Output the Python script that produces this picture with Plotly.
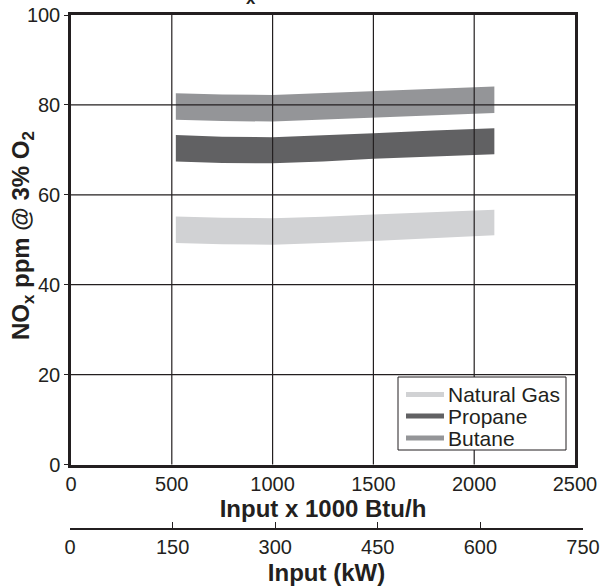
import plotly.graph_objects as go

# Heat input (x 1000 Btu/h) at which each emission band is sampled
input_kbtu = [520, 750, 1000, 1250, 1500, 1800, 2100]

# NOx band limits, ppm @ 3% O2
butane_hi = [82.6, 82.3, 82.2, 82.6, 83.1, 83.6, 84.1]
butane_lo = [76.7, 76.4, 76.3, 76.7, 77.2, 77.7, 78.2]
propane_hi = [73.3, 72.9, 72.8, 73.2, 73.7, 74.3, 74.8]
propane_lo = [67.4, 67.1, 67.0, 67.4, 68.0, 68.5, 69.0]
natgas_hi = [55.2, 54.9, 54.8, 55.1, 55.6, 56.2, 56.7]
natgas_lo = [49.3, 49.0, 48.9, 49.3, 49.7, 50.3, 51.0]

fuels = ["Natural Gas", "Propane", "Butane"]
fuel_colors = ["#d1d2d4", "#616163", "#949598"]

x_ticks = [0, 500, 1000, 1500, 2000, 2500]
kw_ticks = [0, 150, 300, 450, 600, 750]
y_ticks = [0, 20, 40, 60, 80, 100]

INK = "#231f20"
FONT = "Liberation Sans, Arial, sans-serif"

L, R, T, B = 70, 16, 15, 59
W, H = 600 - L - R, 588 - T - B


def px_x(p):
    return (p - L) / W


def px_y(p):
    return (588 - B - p) / H


fig = go.Figure()

bands = [(natgas_lo, natgas_hi), (propane_lo, propane_hi), (butane_lo, butane_hi)]
for name, color, (lo, hi) in zip(fuels, fuel_colors, bands):
    fig.add_trace(go.Scatter(
        x=input_kbtu + input_kbtu[::-1],
        y=hi + lo[::-1],
        fill="toself", fillcolor=color,
        line=dict(width=0), mode="lines", name=name,
        showlegend=False, hoverinfo="skip",
    ))

# kW scale trace (keeps the secondary axis alive)
fig.add_trace(go.Scatter(x=[kw_ticks[0], kw_ticks[-1]], y=[None, None],
                         xaxis="x2", mode="lines", showlegend=False,
                         hoverinfo="skip"))

# grid drawn on top of the bands
for xv in x_ticks[1:-1]:
    fig.add_shape(type="line", xref="x", yref="y domain", x0=xv, x1=xv,
                  y0=0, y1=1, line=dict(color=INK, width=1.2), layer="above")
for yv in y_ticks[1:-1]:
    fig.add_shape(type="line", xref="x domain", yref="y", x0=0, x1=1,
                  y0=yv, y1=yv, line=dict(color=INK, width=1.2), layer="above")

# legend box
fig.add_shape(type="rect", xref="paper", yref="paper",
              x0=px_x(398), x1=px_x(566), y0=px_y(450), y1=px_y(377),
              fillcolor="white", line=dict(color=INK, width=1), layer="above")
row_y = [394.5, 416, 438]
for name, color, ry in zip(fuels, fuel_colors, row_y):
    fig.add_shape(type="line", xref="paper", yref="paper",
                  x0=px_x(406), x1=px_x(444), y0=px_y(ry), y1=px_y(ry),
                  line=dict(color=color, width=5), layer="above")
    fig.add_annotation(text=name, xref="paper", yref="paper",
                       x=px_x(446), y=px_y(ry), xanchor="left",
                       yanchor="middle", showarrow=False,
                       font=dict(family=FONT, size=21, color=INK))

# chart title, mostly above the page edge
fig.add_annotation(text="<b>NO<sub>x</sub></b>", xref="paper", yref="paper",
                   x=px_x(258), y=px_y(9.5), xanchor="right",
                   yanchor="bottom", showarrow=False,
                   font=dict(family=FONT, size=24, color=INK))

# y-axis title
fig.add_annotation(text="<b>NO<sub>x</sub> ppm @ 3% O<sub>2</sub></b>",
                   xref="paper", yref="paper", x=px_x(22), y=px_y(236),
                   xanchor="center", yanchor="middle", textangle=-90,
                   showarrow=False, font=dict(family=FONT, size=24, color=INK))

fig.update_layout(
    width=600, height=588,
    margin=dict(l=L, r=R, t=T, b=B),
    paper_bgcolor="white", plot_bgcolor="rgba(0,0,0,0)",
    font=dict(family=FONT, size=20, color=INK),
    showlegend=False,
    xaxis=dict(
        domain=[px_x(71), px_x(575)], range=[0, 2500], automargin=False,
        tickvals=x_ticks, ticks="", showgrid=False, zeroline=False,
        showline=True, linewidth=2.5, linecolor=INK, mirror=True,
        title=dict(text="<b>Input x 1000 Btu/h</b>", standoff=2,
                   font=dict(size=24)),
        tickfont=dict(size=20),
    ),
    xaxis2=dict(
        domain=[px_x(70), px_x(583)], range=[0, 750], anchor="free",
        position=0, side="bottom", automargin=False,
        tickvals=kw_ticks, ticks="inside", ticklen=6, tickwidth=1.2,
        tickcolor=INK, showgrid=False, zeroline=False,
        showline=True, linewidth=1.5, linecolor=INK,
        title=dict(text="<b>Input (kW)</b>", standoff=6, font=dict(size=24)),
        tickfont=dict(size=20),
    ),
    yaxis=dict(
        domain=[px_y(464.5), 1], range=[0, 100], automargin=False,
        tickvals=y_ticks, ticks="outside", ticklen=4, tickwidth=1.2,
        tickcolor=INK, showgrid=False, zeroline=False,
        showline=True, linewidth=2.5, linecolor=INK, mirror=True,
        tickfont=dict(size=20),
    ),
)

fig.write_html("out.html")
